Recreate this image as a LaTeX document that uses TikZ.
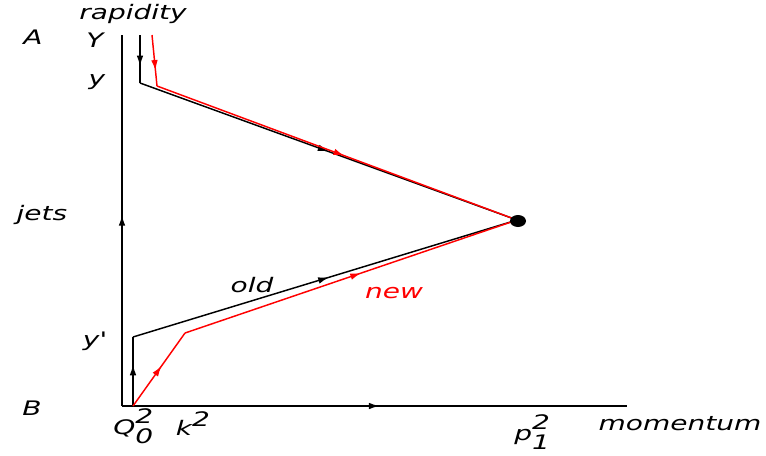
\documentclass[tikz,border=0pt]{standalone}
\usepackage{fontspec}
\setmainfont{DejaVu Sans}[FakeStretch=1.4]
\usepackage{xcolor}
\usetikzlibrary{arrows.meta, decorations.markings, positioning, calc}
\definecolor{oldColor}{RGB}{0, 0, 0}
\definecolor{newColor}{RGB}{255, 0, 0}
% base with stacked super/subscript
\newcommand{\supsub}[3]{#1\rlap{\raisebox{0.55em}{#2}}\raisebox{-0.45em}{#3}}

\begin{document}
\begin{tikzpicture}[
    x=0.75pt, y=-0.75pt,
    lbl/.style={font=\fontsize{15}{17}\selectfont\itshape, inner sep=0pt},
    axis/.style={draw=black, line width=1.3pt},
    oldpath/.style={draw=oldColor, line width=1.1pt},
    newpath/.style={draw=newColor, line width=1.1pt},
    midarrow/.style={postaction={decorate}, decoration={markings,
        mark=at position #1 with {\arrow{Latex[length=8pt,width=5pt]}}}}
]
\useasboundingbox (0,0) rectangle (766,455);

% Coordinates
\coordinate (origin) at (122,406);
\coordinate (ytop) at (122,35);
\coordinate (xend) at (627,406);
\coordinate (blob) at (517,220);
\coordinate (oldstart) at (140,35);
\coordinate (oldy) at (140,83);
\coordinate (newstart) at (152,35);
\coordinate (newy) at (157,86);
\coordinate (qzero) at (133,406);
\coordinate (oldyp) at (133,337);
\coordinate (newk) at (185,333);

% Axes
\path [axis, midarrow=0.515] (origin) -- (ytop);
\path [axis, midarrow=0.51] (origin) -- (xend);

% Old path
\path [oldpath, midarrow=0.65] (oldstart) -- (oldy);
\path [oldpath, midarrow=0.5] (oldy) -- (blob);
\path [oldpath, midarrow=0.6] (qzero) -- (oldyp);
\path [oldpath, midarrow=0.51] (oldyp) -- (blob);

% New path
\path [newpath, midarrow=0.7] (newstart) -- (newy);
\path [newpath, midarrow=0.52] (newy) -- (blob);
\path [newpath, midarrow=0.55] (qzero) -- (newk);
\path [newpath, midarrow=0.53] (newk) -- (blob);

\fill [black] (518,221) ellipse [x radius=8, y radius=6];

% Labels
\node (rapidity) [lbl] at (133,14) {rapidity};
\node (labA) [lbl] at (33,37) {A};
\node (labY) [lbl] at (95,40) {Y};
\node (laby) [lbl] at (97,82) {y};
\node (jets) [lbl] at (42,215) {jets};
\node (labyp) [lbl] at (94,341) {y\textquotesingle};
\node (labB) [lbl] at (32,408) {B};
\node (old) [lbl] at (252,285) {old};
\node (new) [lbl, text=newColor] at (394,293) {new};
\node (qlab) [lbl, anchor=west] at (113,426) {\supsub{Q}{2}{0}};
\node (klab) [lbl] at (193,424) {k\raisebox{0.45em}{2}};
\node (plab) [lbl, anchor=west] at (514,432) {\supsub{p}{2}{1}};
\node (momentum) [lbl] at (680,424) {momentum};

\end{tikzpicture}
\end{document}
